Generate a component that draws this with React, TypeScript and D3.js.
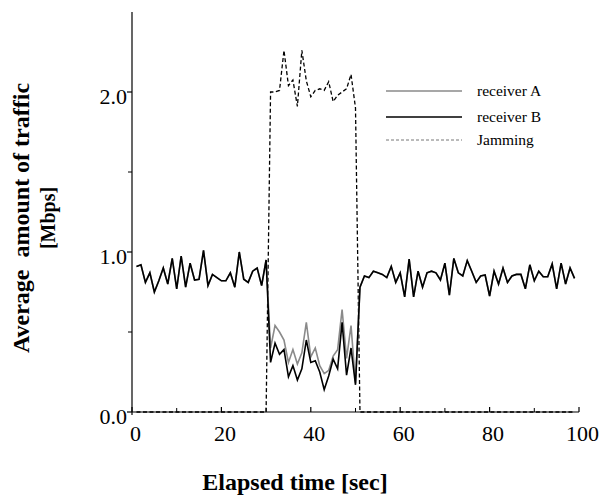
import React from "react";
import * as d3 from "d3";

const times: number[] = Array.from({ length: 99 }, (_, i) => i + 1);

const receiverB: number[] = [
  0.91, 0.92, 0.81, 0.87, 0.75, 0.82, 0.9, 0.8, 0.96, 0.77,
  0.975, 0.78, 0.93, 0.825, 0.83, 1.01, 0.79, 0.86, 0.84, 0.82,
  0.82, 0.87, 0.78, 1.0, 0.83, 0.81, 0.88, 0.9, 0.79, 0.95,
  0.31, 0.43, 0.36, 0.39, 0.22, 0.29, 0.2, 0.27, 0.45, 0.31,
  0.32, 0.25, 0.14, 0.225, 0.33, 0.27, 0.56, 0.23, 0.4, 0.17,
  0.78, 0.85, 0.84, 0.88, 0.87, 0.86, 0.84, 0.91, 0.81, 0.87,
  0.72, 0.955, 0.72, 0.88, 0.78, 0.87, 0.88, 0.87, 0.825, 0.93,
  0.73, 0.96, 0.87, 0.85, 0.946, 0.88, 0.81, 0.85, 0.856, 0.725,
  0.88, 0.8, 0.9, 0.81, 0.85, 0.86, 0.86, 0.77, 0.92, 0.82,
  0.88, 0.845, 0.845, 0.925, 0.77, 0.93, 0.8, 0.9, 0.835,
];

const receiverAJam: number[] = [
  0.4, 0.54, 0.5, 0.45, 0.31, 0.39, 0.3, 0.37, 0.56, 0.345,
  0.4, 0.29, 0.24, 0.26, 0.35, 0.39, 0.64, 0.335, 0.54, 0.18,
];

const jammingOn: number[] = [
  2.0, 2.0, 2.01, 2.26, 2.04, 2.075, 1.91, 2.26, 2.07, 1.97,
  2.01, 2.02, 2.01, 2.065, 1.94, 1.98, 2.0, 2.02, 2.11, 1.9,
];

const jamStart = 31; // first jamming sample time
const receiverA: number[] = receiverB.map((v, i) => {
  const t = times[i];
  return t >= jamStart && t < jamStart + receiverAJam.length ? receiverAJam[t - jamStart] : v;
});
const jamming: number[] = times.map((t) =>
  t >= jamStart && t < jamStart + jammingOn.length ? jammingOn[t - jamStart] : 0
);

const xMajor = [0, 20, 40, 60, 80, 100];
const xMinor = [10, 30, 50, 70, 90];
const yMajor = [0, 1, 2];
const yMinor = [0.5, 1.5];

const legendItems = [
  { label: "receiver A", color: "#8a8a8a", width: 1.3, dash: "" },
  { label: "receiver B", color: "#000", width: 1.6, dash: "" },
  { label: "Jamming", color: "#666", width: 0.9, dash: "3,2" },
];

export default function App() {
  const W = 605, H = 496;
  const x = d3.scaleLinear().domain([0, 100]).range([132, 579]);
  const y = d3.scaleLinear().domain([0, 2.5]).range([412, 12]);
  const line = d3.line<number>().x((_, i) => x(times[i])).y((d) => y(d));
  const serif = "'Liberation Serif', 'Times New Roman', serif";

  return (
    <svg width={W} height={H} style={{ position: "absolute", left: 0, top: 0, background: "#fff" }} fontFamily={serif}>
      {/* axes */}
      <line x1={x(0)} x2={x(0)} y1={y(2.5)} y2={y(0) + 3} stroke="#000" strokeWidth={1.2} />
      <line x1={x(0)} x2={x(100)} y1={y(0)} y2={y(0)} stroke="#000" strokeWidth={1.2} />
      {yMajor.map((v) => (
        <g key={"ym" + v}>
          <line x1={x(0) - 5} x2={x(0)} y1={y(v)} y2={y(v)} stroke="#000" strokeWidth={1.2} />
          <text x={x(0) - 5} y={y(v) + 12} textAnchor="end" fontSize={22}>{v.toFixed(1)}</text>
        </g>
      ))}
      {yMinor.map((v) => (
        <line key={"yn" + v} x1={x(0) - 4} x2={x(0)} y1={y(v)} y2={y(v)} stroke="#000" strokeWidth={1} />
      ))}
      {xMajor.map((v) => (
        <g key={"xm" + v}>
          <line x1={x(v)} x2={x(v)} y1={y(0)} y2={y(0) - 5} stroke="#000" strokeWidth={1.2} />
          <text x={x(v) + 3.5} y={441} textAnchor="middle" fontSize={22}>{v}</text>
        </g>
      ))}
      {xMinor.map((v) => (
        <line key={"xn" + v} x1={x(v)} x2={x(v)} y1={y(0)} y2={y(0) - 4} stroke="#000" strokeWidth={1} />
      ))}

      {/* series */}
      <path d={line(jamming) || ""} fill="none" stroke="#000" strokeWidth={1.3} strokeDasharray="4,2.5" />
      <path d={line(receiverA) || ""} fill="none" stroke="#8a8a8a" strokeWidth={1.6} strokeLinejoin="miter" />
      <path d={line(receiverB) || ""} fill="none" stroke="#000" strokeWidth={1.6} strokeLinejoin="miter" />

      {/* legend */}
      {legendItems.map((it, i) => {
        const ly = [91, 117, 140][i];
        return (
          <g key={it.label}>
            <line x1={386} x2={462} y1={ly} y2={ly} stroke={it.color} strokeWidth={it.width} strokeDasharray={it.dash} />
            <text x={477} y={ly + 5} fontSize={15.5}>{it.label}</text>
          </g>
        );
      })}

      {/* titles */}
      <text x={295} y={490} textAnchor="middle" fontSize={24} fontWeight="bold">Elapsed time [sec]</text>
      <g transform="translate(0,218) rotate(-90)">
        <text x={0} y={29} textAnchor="middle" fontSize={24} fontWeight="bold" style={{ whiteSpace: "pre" }}>{"Average  amount of traffic"}</text>
        <text x={0} y={55} textAnchor="middle" fontSize={20} fontWeight="bold">[Mbps]</text>
      </g>
    </svg>
  );
}
